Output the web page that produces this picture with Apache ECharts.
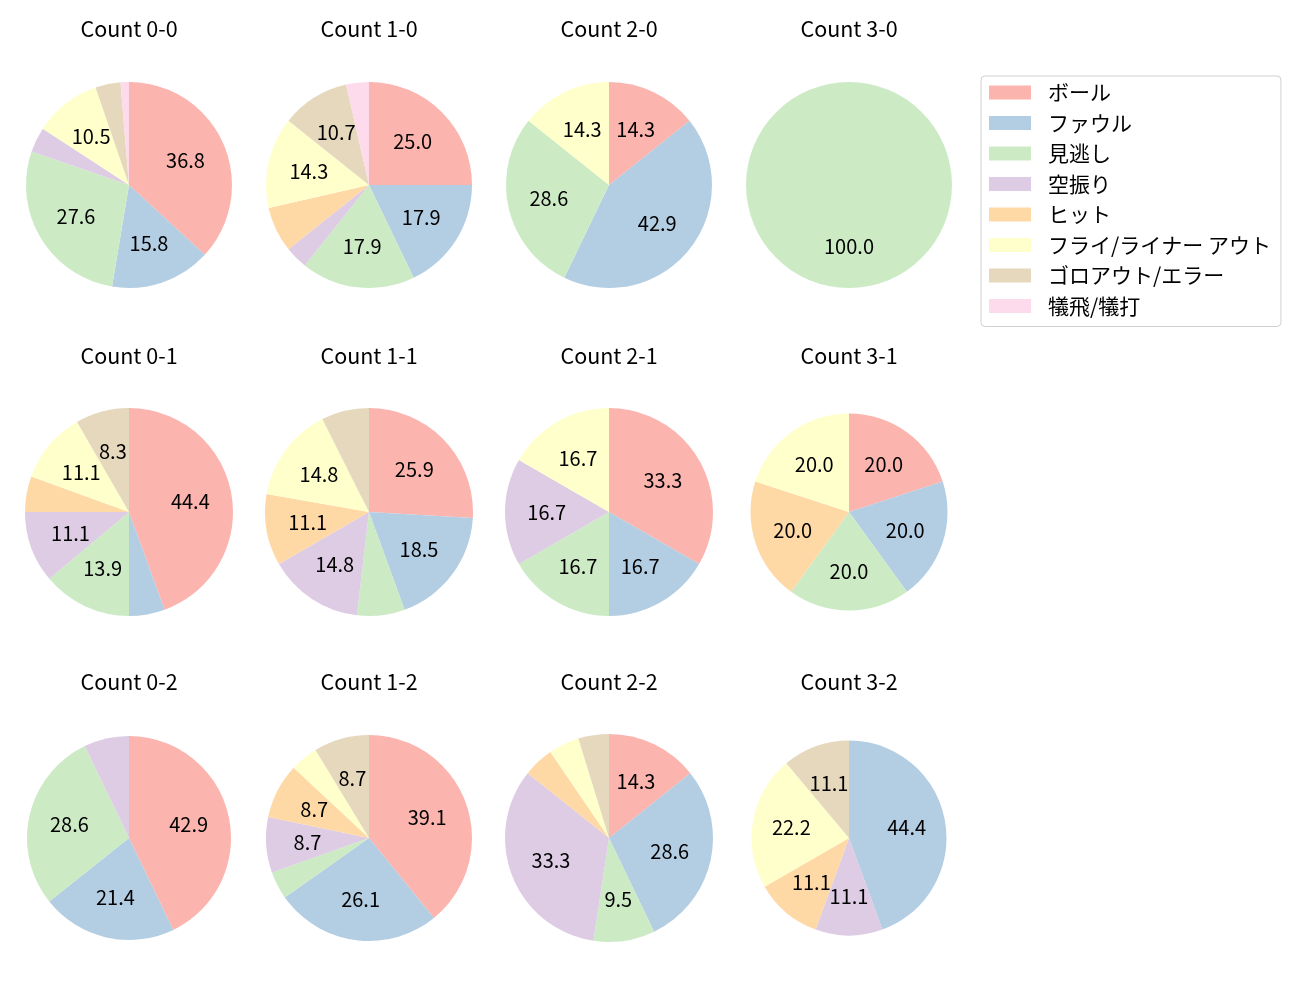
<!DOCTYPE html>
<html>
<head>
<meta charset="utf-8">
<script src="https://cdn.jsdelivr.net/npm/echarts@6/dist/echarts.min.js"></script>
<style>
html,body{margin:0;padding:0;background:#fff;}
#chart{width:1300px;height:1000px;}
</style>
</head>
<body>
<div id="chart"></div>
<script>
// categories (legend order) and colours
var categories = ['ボール','ファウル','見逃し','空振り','ヒット','フライ/ライナー アウト','ゴロアウト/エラー','犠飛/犠打'];
var colors = ['#fbb4ae','#b3cde3','#ccebc5','#decbe4','#fed9a6','#ffffcc','#e5d8bd','#fddaec'];

// pitch outcome counts per ball-strike count, in category order
var titles = ['Count 0-0','Count 1-0','Count 2-0','Count 3-0',
              'Count 0-1','Count 1-1','Count 2-1','Count 3-1',
              'Count 0-2','Count 1-2','Count 2-2','Count 3-2'];
var count00 = [28,12,21,3,0,8,3,1];
var count10 = [7,5,5,1,2,4,3,1];
var count20 = [1,3,2,0,0,1,0,0];
var count30 = [0,0,1,0,0,0,0,0];
var count01 = [16,2,5,4,2,4,3,0];
var count11 = [7,5,2,4,3,4,2,0];
var count21 = [2,1,1,1,0,1,0,0];
var count31 = [1,1,1,0,1,1,0,0];
var count02 = [6,3,4,1,0,0,0,0];
var count12 = [9,6,1,2,2,1,2,0];
var count22 = [3,6,2,7,1,1,1,0];
var count32 = [0,4,0,1,1,2,1,0];
var allCounts = [count00,count10,count20,count30,count01,count11,count21,count31,count02,count12,count22,count32];

// layout of the 3x4 grid
var colX = [129,369,609,849];
var rowY = [185,512,838];
var radii = [103,103,103,103, 104,104,104,98.5, 102,103,104,97.5];

var font = '"Noto Sans CJK JP","Noto Sans",sans-serif';

var titleList = [];
var seriesList = [];
var labelSeries = [];

for(var i=0;i<allCounts.length;i++){
	var cx = colX[i%4];
	var cy = rowY[Math.floor(i/4)];
	var r = radii[i];
	var vals = allCounts[i];
	var total = 0;
	for(var k=0;k<vals.length;k++){ total += vals[k]; }
	var data = [];
	for(var k=0;k<vals.length;k++){
		data.push({name:categories[k], value:vals[k], itemStyle:{color:colors[k]}});
	}
	titleList.push({
		text:titles[i], left:cx, top:cy-167, textAlign:'center', padding:0,
		textStyle:{fontFamily:font, fontSize:21.5, fontWeight:'normal', color:'#000'}
	});
	seriesList.push({
		type:'pie', center:[cx,cy], radius:[0,r], startAngle:90, clockwise:true,
		silent:true, animation:false, label:{show:false}, labelLine:{show:false},
		itemStyle:{borderWidth:0}, data:data
	});
	// transparent ring so the labels sit near 0.6 of the radius
	(function(tot){
		labelSeries.push({
			type:'pie', center:[cx,cy], radius:[0.14*r,r], startAngle:90, clockwise:true,
			silent:true, animation:false, labelLine:{show:false},
			avoidLabelOverlap:false, labelLayout:{hideOverlap:false},
			itemStyle:{color:'rgba(0,0,0,0)', borderWidth:0},
			label:{
				show:true, position:'inside', fontFamily:font, fontSize:20, color:'#000',
				formatter:function(p){
					var pct = p.value/tot*100;
					return pct >= 8 ? pct.toFixed(1) : '';
				}
			},
			data:vals.map(function(v,k){ return {name:categories[k], value:v}; })
		});
	})(total);
}

var legendData = [];
for(var k=0;k<categories.length;k++){
	legendData.push({name:categories[k], itemStyle:{color:colors[k]}});
}

var chart = echarts.init(document.getElementById('chart'));
var option = {
	backgroundColor:'#fff',
	title:titleList,
	legend:{
		orient:'vertical', left:981, top:76,
		padding:[6,10,10,8], itemGap:9.5,
		itemWidth:42, itemHeight:14, icon:'rect',
		borderColor:'#d0d0d0', borderWidth:1, borderRadius:4,
		selectedMode:false,
		textStyle:{fontFamily:font, fontSize:21, color:'#000', padding:[0,0,0,12]},
		data:legendData
	},
	series:seriesList.concat(labelSeries)
};
chart.setOption(option);
</script>
</body>
</html>
